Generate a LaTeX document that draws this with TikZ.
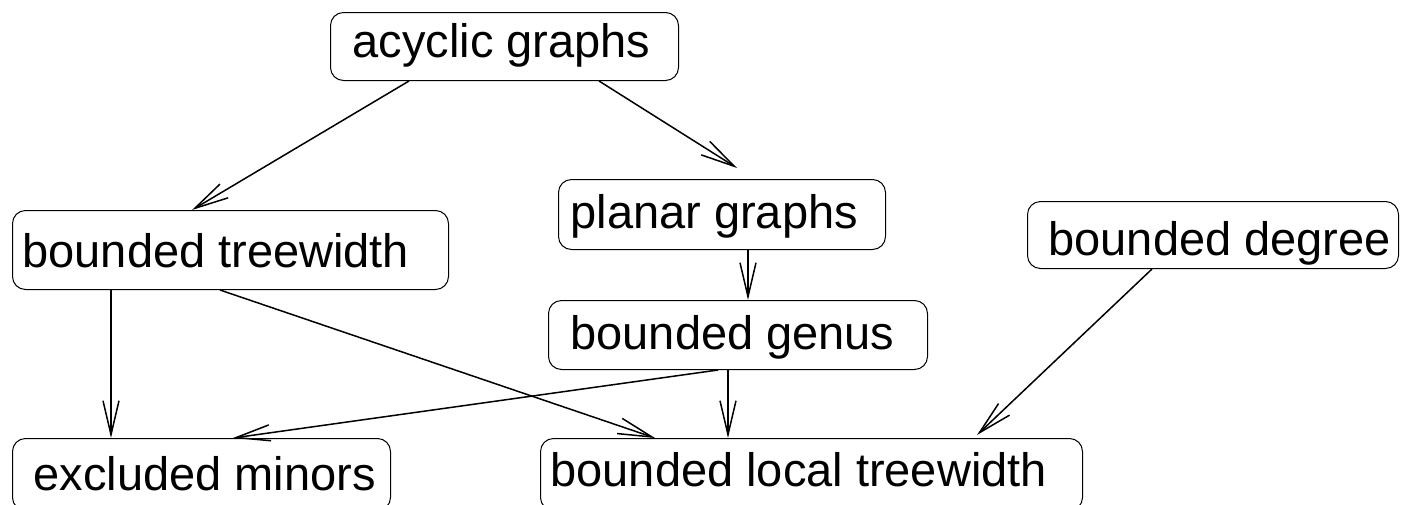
\documentclass[tikz,border=0pt]{standalone}
\usepackage{fontspec}
\setmainfont{Liberation Sans}
\usetikzlibrary{arrows.meta,calc}
\newcommand{\boxtxt}[3]{\makebox[#1][l]{\hspace{#2}#3}}
\begin{document}
\begin{tikzpicture}[x=0.5pt,y=-0.5pt,
  box/.style={draw, line width=0.5pt, rounded corners=6.5pt, anchor=north west,
    inner xsep=0pt, inner ysep=0pt, text depth=0pt,
    font=\fontsize{23.5}{28}\selectfont},
  arr/.style={-{Straight Barb[length=17pt,width=8pt]}, line width=0.75pt}]
\useasboundingbox (0,0) rectangle (1403,504);

\node[box, minimum width=174pt, minimum height=34pt, text height=11pt] (acyc) at (330,12)
  {\boxtxt{174pt}{11pt}{acyclic graphs}};
\node[box, minimum width=218pt, minimum height=39.5pt, text height=17.5pt] (tw) at (12,210)
  {\boxtxt{218pt}{5pt}{bounded treewidth}};
\node[box, minimum width=163.5pt, minimum height=35pt, text height=13.5pt] (planar) at (558,179)
  {\boxtxt{163.5pt}{6pt}{planar graphs}};
\node[box, minimum width=185.5pt, minimum height=33.5pt, text height=20.5pt] (degree) at (1027,201)
  {\boxtxt{185.5pt}{10.5pt}{bounded degree}};
\node[box, minimum width=189.5pt, minimum height=34.5pt, text height=14.5pt] (genus) at (548,300)
  {\boxtxt{189.5pt}{11pt}{bounded genus}};
\node[box, minimum width=271pt, minimum height=36pt, text height=12pt] (local) at (540,438)
  {\boxtxt{271pt}{5pt}{bounded local treewidth}};
\node[box, minimum width=189pt, minimum height=36pt, text height=16pt] (excl) at (12,438)
  {\boxtxt{189pt}{10.5pt}{excluded minors}};

\draw[arr] ($(acyc.south west)+(79,0)$) -- ($(tw.north west)+(180,0)$);
\draw[arr] ($(acyc.south west)+(269,0)$) -- ($(planar.north west)+(179,-11)$);
\draw[arr] ($(tw.south west)+(99,0)$) -- ($(excl.north west)+(99,0)$);
\draw[arr] ($(tw.south west)+(208,0)$) -- ($(local.north west)+(115,0)$);
\draw[arr] ($(planar.south west)+(190,0)$) -- ($(genus.north west)+(200,0)$);
\draw[arr] ($(genus.south west)+(170,0)$) -- ($(excl.north west)+(221,0)$);
\draw[arr] ($(genus.south west)+(180,0)$) -- ($(local.north west)+(188,0)$);
\draw[arr] ($(degree.south west)+(125,0)$) -- ($(local.north west)+(437,-3)$);
\end{tikzpicture}
\end{document}
